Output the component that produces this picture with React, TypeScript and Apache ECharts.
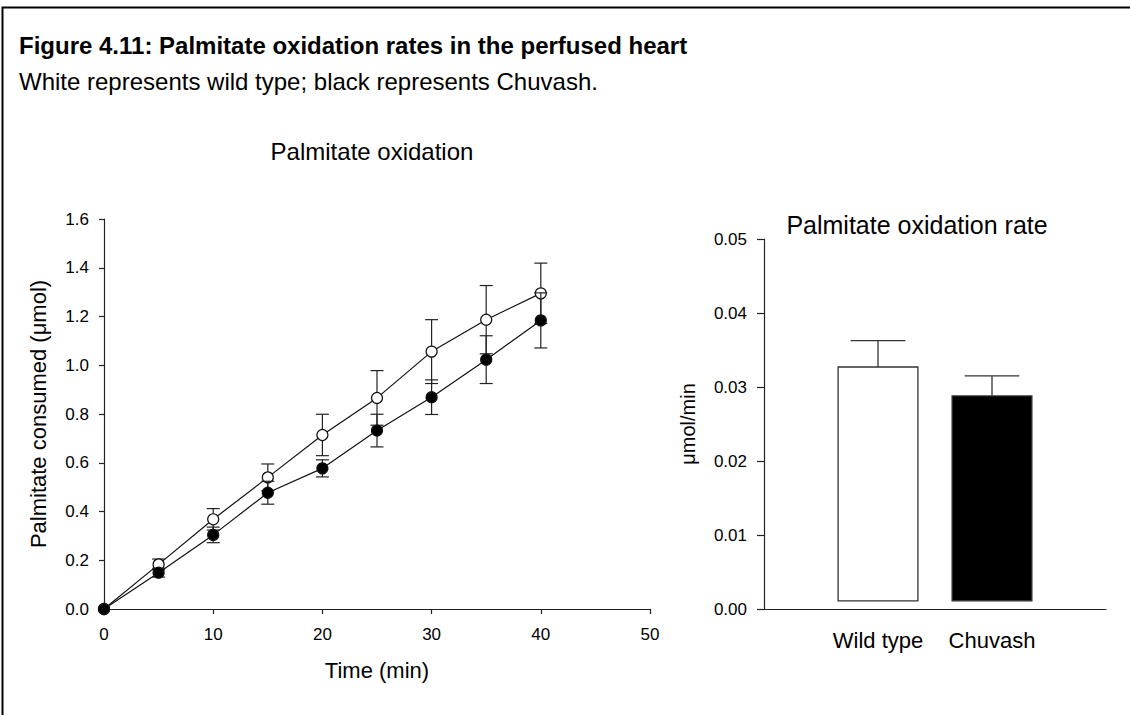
import React, { useEffect, useRef } from "react";
import * as echarts from "echarts";

// ---- Data ----
const TIME_MIN = [0, 5, 10, 15, 20, 25, 30, 35, 40];
const WT_MEAN = [0, 0.183, 0.368, 0.54, 0.714, 0.866, 1.056, 1.187, 1.295];
const WT_SEM = [0, 0.022, 0.044, 0.055, 0.085, 0.112, 0.131, 0.14, 0.124];
const CH_MEAN = [0, 0.149, 0.304, 0.477, 0.577, 0.732, 0.869, 1.023, 1.184];
const CH_SEM = [0, 0.018, 0.032, 0.047, 0.035, 0.067, 0.071, 0.098, 0.113];

const BAR_GROUPS = ["Wild type", "Chuvash"];
const BAR_POS = [1, 2];
const BAR_MEAN = [0.0327, 0.0288];
const BAR_SEM = [0.00356, 0.0027];
const BAR_BASE = 0.0011;

const FONT = "Liberation Sans, Arial, Helvetica, sans-serif";
const AXIS_COLOR = "#222";

export default function App() {
  const ref = useRef<HTMLDivElement>(null);

  useEffect(() => {
    if (!ref.current) return;
    const chart = echarts.init(ref.current, undefined, { renderer: "svg" });

    const wtData = TIME_MIN.map((t, i) => [t, WT_MEAN[i]]);
    const chData = TIME_MIN.map((t, i) => [t, CH_MEAN[i]]);
    const wtErr = TIME_MIN.map((t, i) => [t, WT_MEAN[i], WT_SEM[i]]);
    const chErr = TIME_MIN.map((t, i) => [t, CH_MEAN[i], CH_SEM[i]]);
    const barData = BAR_POS.map((p, i) => [p, BAR_MEAN[i], BAR_SEM[i], i]);

    const errRender = (params: any, api: any) => {
      const x = api.value(0);
      const m = api.value(1);
      const e = api.value(2);
      if (!e) return { type: "group", children: [] };
      const hi = api.coord([x, m + e]);
      const lo = api.coord([x, m - e]);
      const hw = 6.5;
      const st = { stroke: "#222", lineWidth: 1.2 };
      return {
        type: "group",
        children: [
          { type: "line", shape: { x1: hi[0], y1: hi[1], x2: lo[0], y2: lo[1] }, style: st },
          { type: "line", shape: { x1: hi[0] - hw, y1: hi[1], x2: hi[0] + hw, y2: hi[1] }, style: st },
          { type: "line", shape: { x1: lo[0] - hw, y1: lo[1], x2: lo[0] + hw, y2: lo[1] }, style: st },
        ],
      };
    };

    const barRender = (params: any, api: any) => {
      const x = api.value(0);
      const v = api.value(1);
      const e = api.value(2);
      const idx = api.value(3);
      const base = api.coord([x, BAR_BASE]);
      const top = api.coord([x, v]);
      const cap = api.coord([x, v + e]);
      const w = api.size([0.7, 0])[0];
      const cw = api.size([0.48, 0])[0];
      const st = { stroke: "#333", lineWidth: 1.3 };
      return {
        type: "group",
        children: [
          {
            type: "line",
            shape: { x1: top[0], y1: top[1], x2: cap[0], y2: cap[1] },
            style: st,
          },
          {
            type: "line",
            shape: { x1: cap[0] - cw / 2, y1: cap[1], x2: cap[0] + cw / 2, y2: cap[1] },
            style: st,
          },
          {
            type: "rect",
            shape: { x: top[0] - w / 2, y: top[1], width: w, height: base[1] - top[1] },
            style: { fill: idx === 0 ? "#ffffff" : "#000000", stroke: "#333", lineWidth: 1.3 },
          },
        ],
      };
    };

    const axisLineStyle = { lineStyle: { color: AXIS_COLOR, width: 1.2 } };

    chart.setOption({
      animation: false,
      backgroundColor: "#ffffff",
      textStyle: { fontFamily: FONT },
      graphic: [
        {
          type: "rect",
          shape: { x: 2.5, y: 7.5, width: 1300, height: 900 },
          style: { fill: "none", stroke: "#000", lineWidth: 2 },
          silent: true,
        },
        {
          type: "text",
          x: 19,
          y: 45,
          style: {
            text: "Figure 4.11: Palmitate oxidation rates in the perfused heart",
            fontFamily: FONT,
            fontSize: 24,
            fontWeight: "bold",
            fill: "#000",
            align: "left",
            verticalAlign: "middle",
          },
        },
        {
          type: "text",
          x: 19,
          y: 81,
          style: {
            text: "White represents wild type; black represents Chuvash.",
            fontFamily: FONT,
            fontSize: 24,
            fill: "#000",
            align: "left",
            verticalAlign: "middle",
          },
        },
        {
          type: "text",
          x: 372,
          y: 151,
          style: {
            text: "Palmitate oxidation",
            fontFamily: FONT,
            fontSize: 24,
            fill: "#000",
            align: "center",
            verticalAlign: "middle",
          },
        },
        {
          type: "text",
          x: 917,
          y: 225,
          style: {
            text: "Palmitate oxidation rate",
            fontFamily: FONT,
            fontSize: 25,
            fill: "#000",
            align: "center",
            verticalAlign: "middle",
          },
        },
      ],
      grid: [
        { left: 104, top: 219, width: 546, height: 390 },
        { left: 764, top: 239, width: 342, height: 370 },
      ],
      xAxis: [
        {
          type: "value",
          gridIndex: 0,
          min: 0,
          max: 50,
          interval: 10,
          axisLine: { show: true, ...axisLineStyle },
          axisTick: { show: true, length: 5, ...axisLineStyle },
          splitLine: { show: false },
          axisLabel: { color: "#000", fontSize: 17, margin: 17, fontFamily: FONT },
          name: "Time (min)",
          nameLocation: "middle",
          nameGap: 50,
          nameTextStyle: { color: "#000", fontSize: 22, fontFamily: FONT },
        },
        {
          type: "value",
          gridIndex: 1,
          min: 0,
          max: 3,
          interval: 1,
          axisLine: { show: true, ...axisLineStyle },
          axisTick: { show: false },
          splitLine: { show: false },
          axisLabel: {
            color: "#000",
            fontSize: 22,
            margin: 20,
            fontFamily: FONT,
            formatter: (v: number) => {
              const k = BAR_POS.indexOf(v);
              return k >= 0 ? BAR_GROUPS[k] : "";
            },
          },
        },
      ],
      yAxis: [
        {
          type: "value",
          gridIndex: 0,
          min: 0,
          max: 1.6,
          interval: 0.2,
          axisLine: { show: true, ...axisLineStyle },
          axisTick: { show: true, length: 5, ...axisLineStyle },
          splitLine: { show: false },
          axisLabel: {
            color: "#000",
            fontSize: 17,
            margin: 15,
            fontFamily: FONT,
            formatter: (v: number) => v.toFixed(1),
          },
          name: "Palmitate consumed (\u03bcmol)",
          nameLocation: "middle",
          nameGap: 55,
          nameTextStyle: { color: "#000", fontSize: 22, fontFamily: FONT },
        },
        {
          type: "value",
          gridIndex: 1,
          min: 0,
          max: 0.05,
          interval: 0.01,
          axisLine: { show: true, ...axisLineStyle },
          axisTick: { show: true, length: 7, ...axisLineStyle },
          splitLine: { show: false },
          axisLabel: {
            color: "#000",
            fontSize: 17,
            margin: 17,
            fontFamily: FONT,
            formatter: (v: number) => v.toFixed(2),
          },
          name: "\u03bcmol/min",
          nameLocation: "middle",
          nameGap: 66,
          nameTextStyle: { color: "#000", fontSize: 20, fontFamily: FONT },
        },
      ],
      series: [
        {
          type: "custom",
          name: "WT error",
          xAxisIndex: 0,
          yAxisIndex: 0,
          renderItem: errRender,
          data: wtErr,
          z: 2,
        },
        {
          type: "line",
          name: "Wild type",
          xAxisIndex: 0,
          yAxisIndex: 0,
          data: wtData,
          symbol: "circle",
          symbolSize: 11,
          showSymbol: true,
          lineStyle: { color: "#111", width: 1.2 },
          itemStyle: { color: "#ffffff", borderColor: "#111", borderWidth: 1.2 },
          z: 3,
        },
        {
          type: "custom",
          name: "Chuvash error",
          xAxisIndex: 0,
          yAxisIndex: 0,
          renderItem: errRender,
          data: chErr,
          z: 4,
        },
        {
          type: "line",
          name: "Chuvash",
          xAxisIndex: 0,
          yAxisIndex: 0,
          data: chData,
          symbol: "circle",
          symbolSize: 11,
          showSymbol: true,
          lineStyle: { color: "#111", width: 1.2 },
          itemStyle: { color: "#000000", borderColor: "#111", borderWidth: 1.2 },
          z: 5,
        },
        {
          type: "custom",
          name: "Rate",
          xAxisIndex: 1,
          yAxisIndex: 1,
          renderItem: barRender,
          data: barData,
          z: 2,
        },
      ],
    });

    return () => chart.dispose();
  }, []);

  return (
    <div
      ref={ref}
      style={{ position: "absolute", left: 0, top: 0, width: 1130, height: 715, background: "#fff" }}
    />
  );
}
